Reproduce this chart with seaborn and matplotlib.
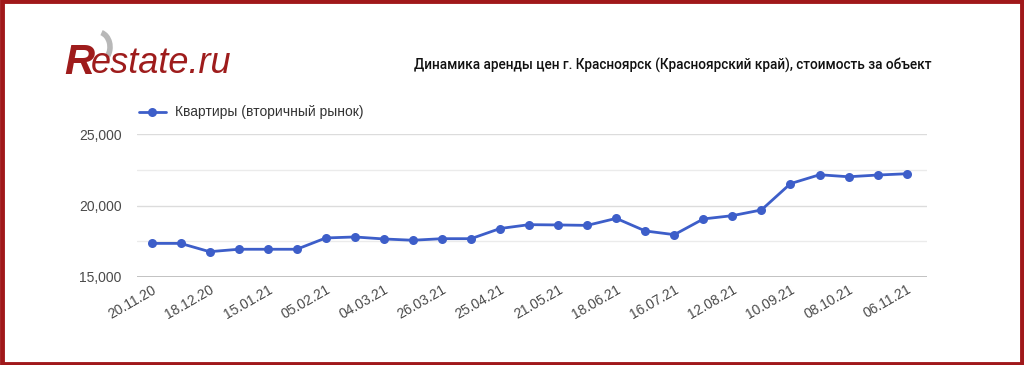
import matplotlib
matplotlib.use("Agg")
import matplotlib.pyplot as plt
import seaborn as sns
import pandas as pd
from matplotlib.patches import Rectangle, Arc

# data
dates = [
    "20.11.20", "04.12.20", "18.12.20", "01.01.21", "15.01.21", "25.01.21",
    "05.02.21", "19.02.21", "04.03.21", "15.03.21", "26.03.21", "10.04.21",
    "25.04.21", "07.05.21", "21.05.21", "04.06.21", "18.06.21", "02.07.21",
    "16.07.21", "29.07.21", "12.08.21", "26.08.21", "10.09.21", "24.09.21",
    "08.10.21", "22.10.21", "06.11.21",
]
prices = [
    17350, 17350, 16770, 16940, 16940, 16940, 17730, 17800, 17660, 17570,
    17680, 17680, 18390, 18660, 18640, 18610, 19100, 18220, 17960, 19060,
    19290, 19690, 21530, 22150, 22010, 22130, 22220,
]
series_name = "Квартиры (вторичный рынок)"
title = "Динамика аренды цен г. Красноярск (Красноярский край), стоимость за объект"

df = pd.DataFrame({"pos": range(len(dates)), "price": prices, "series": series_name})

sns.set_theme(style="white")
plt.rcParams["font.family"] = ["Liberation Sans", "DejaVu Sans"]

fig = plt.figure(figsize=(10.24, 3.65), dpi=100)
ax = fig.add_axes([137 / 1024, 1 - 277 / 365, (927 - 137) / 1024, (277 - 134) / 365])

line_col = "#3d5ec9"
sns.lineplot(data=df, x="pos", y="price", hue="series", palette=[line_col],
             marker="o", markersize=6.5, markeredgewidth=0, linewidth=2.0, ax=ax)

ax.set_ylim(15000, 25000)
ax.set_xlim(-0.5, len(dates) - 0.3)
ax.set_yticks([15000, 20000, 25000])
ax.set_yticklabels([f"{v:,}" for v in [15000, 20000, 25000]])
for v in [17500, 22500]:
    ax.axhline(v, color="#ebebeb", lw=1, zorder=0)
for v in [20000, 25000]:
    ax.axhline(v, color="#dcdcdc", lw=1, zorder=0)
ax.axhline(15000, color="#bdbdbd", lw=1.3, zorder=0)

ax.set_xticks(range(0, len(dates), 2))
ax.set_xticklabels(dates[::2], rotation=30, ha="right", rotation_mode="anchor")
ax.tick_params(axis="both", length=0, labelsize=10, colors="#4a4a4a")
ax.tick_params(axis="y", pad=11)
ax.tick_params(axis="x", pad=4)
ax.set_xlabel("")
ax.set_ylabel("")
sns.despine(ax=ax, left=True, bottom=True)
ax.set_facecolor("none")

leg = ax.legend(loc="lower left", bbox_to_anchor=(133 / 1024, 1 - 125 / 365),
                bbox_transform=fig.transFigure, frameon=False, fontsize=10,
                handlelength=2.0, handletextpad=0.6, borderaxespad=0)
for t in leg.get_texts():
    t.set_color("#333333")

# logo
logo_red = "#9e1c1c"
fig.text(64 / 1024, 1 - 74 / 365, "R", fontsize=30, fontweight="bold", fontstyle="italic",
         color=logo_red, va="baseline", ha="left")
fig.text(91 / 1024, 1 - 73 / 365, "estate.ru", fontsize=26, fontstyle="italic",
         color=logo_red, va="baseline", ha="left")
fig.patches.append(Arc((98 / 1024, 1 - 47 / 365), 24 / 1024, 30 / 365, theta1=-70, theta2=85,
                       transform=fig.transFigure, color="#b8b8b8", lw=4))

fig.text(932 / 1024, 1 - 65 / 365, title, fontsize=9.8, family=["Roboto", "DejaVu Sans"],
         fontweight="medium", color="#111111", ha="right", va="center")

# red frame
fig.patches.append(Rectangle((0.002, 0.004), 0.996, 0.992, transform=fig.transFigure,
                             fill=False, edgecolor="#a0181a", lw=3.5))

fig.savefig("out.png", dpi=100, facecolor="white")
